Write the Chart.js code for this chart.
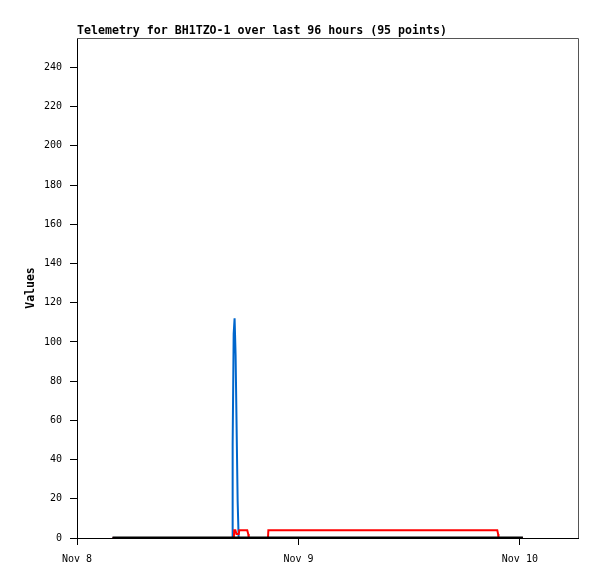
<!DOCTYPE html>
<html>
<head>
<meta charset="utf-8">
<script src="https://cdn.jsdelivr.net/npm/chart.js@4.4.1/dist/chart.umd.min.js"></script>
<style>
  html, body { margin: 0; padding: 0; background: #fff; }
  #wrap { width: 597px; height: 579px; }
</style>
</head>
<body>
<div id="wrap"><canvas id="c" width="597" height="579"></canvas></div>
<script>
// Hours since Nov 8 00:00
const xTickHours = [0, 24, 48];
const xTickLabels = ['Nov 8', 'Nov 9', 'Nov 10'];
const yTickValues = [0, 20, 40, 60, 80, 100, 120, 140, 160, 180, 200, 220, 240];

const blackHours  = [3.85, 8, 12, 16, 16.84, 17.5, 20, 24, 28, 32, 36, 40, 44, 48.33];
const blackValues = [0, 0, 0, 0, 0, 0, 0, 0, 0, 0, 0, 0, 0, 0];

const blueHours  = [3.85, 16.82, 16.87, 16.98, 17.08, 17.19, 17.30, 17.41, 17.52, 48.33];
const blueValues = [0, 0, 48, 104, 112, 93, 56, 19, 0, 0];

const redHours  = [3.85, 17.00, 17.04, 17.17, 17.28, 17.53, 17.59, 18.45, 18.56, 18.61, 20.70, 20.74, 45.55, 45.64, 45.68, 48.33];
const redValues = [0, 0, 4, 4, 2, 2, 4, 4, 2, 0, 0, 4, 4, 2, 0, 0];

const titleText = 'Telemetry for BH1TZO-1 over last 96 hours (95 points)';
const yTitle = 'Values';

function pts(xs, ys) { return xs.map((x, i) => ({ x: x, y: ys[i] })); }

const frame = {
  id: 'frame',
  afterDatasetsDraw(chart) {
    const { ctx, chartArea: a } = chart;
    ctx.save();
    ctx.strokeStyle = '#555';
    ctx.lineWidth = 1;
    ctx.beginPath();
    ctx.moveTo(a.left, a.top + 0.5);
    ctx.lineTo(a.right + 0.5, a.top + 0.5);
    ctx.lineTo(a.right + 0.5, a.bottom);
    ctx.stroke();
    ctx.restore();
  }
};

const mono = '"DejaVu Sans Mono", "Liberation Mono", monospace';

new Chart(document.getElementById('c'), {
  type: 'line',
  data: {
    datasets: [
      { data: pts(blackHours, blackValues), borderColor: '#000', borderWidth: 3, pointRadius: 0, tension: 0, order: 0 },
      { data: pts(redHours, redValues), borderColor: '#ff0000', borderWidth: 2, pointRadius: 0, tension: 0, order: 1 },
      { data: pts(blueHours, blueValues), borderColor: '#0066cc', borderWidth: 2, pointRadius: 0, tension: 0, order: 2 }
    ]
  },
  options: {
    responsive: false,
    animation: false,
    layout: { padding: { left: 0, right: 19, top: 0, bottom: 0 } },
    plugins: {
      legend: { display: false },
      tooltip: { enabled: false },
      title: {
        display: true,
        text: titleText,
        align: 'start',
        fullSize: false,
        color: '#000',
        font: { family: mono, size: 11.6, weight: 'bold', lineHeight: '14px' },
        padding: { top: 24, bottom: 0 }
      }
    },
    scales: {
      x: {
        type: 'linear',
        min: 0,
        max: 54.3,
        afterBuildTicks(scale) { scale.ticks = xTickHours.map(v => ({ value: v })); },
        afterFit(scale) { scale.height = 41; },
        ticks: {
          autoSkip: false,
          maxRotation: 0,
          color: '#000',
          padding: 8,
          font: { family: mono, size: 10 },
          callback(value) { const i = xTickHours.indexOf(value); return i >= 0 ? xTickLabels[i] : ''; }
        },
        grid: { display: true, drawOnChartArea: false, drawTicks: true, tickLength: 7, tickColor: '#000' },
        border: { display: true, color: '#000', width: 1 }
      },
      y: {
        type: 'linear',
        min: 0,
        max: 255,
        afterBuildTicks(scale) { scale.ticks = yTickValues.map(v => ({ value: v })); },
        afterFit(scale) { scale.width = 77; },
        ticks: {
          color: '#000',
          padding: 8,
          font: { family: mono, size: 10 }
        },
        grid: { display: true, drawOnChartArea: false, drawTicks: true, tickLength: 7, tickColor: '#000' },
        border: { display: true, color: '#000', width: 1 },
        title: {
          display: true,
          text: yTitle,
          color: '#000',
          font: { family: mono, size: 11.5, weight: 'bold', lineHeight: '13px' },
          padding: { top: 25, bottom: 0 }
        }
      }
    }
  },
  plugins: [frame]
});
</script>
</body>
</html>
